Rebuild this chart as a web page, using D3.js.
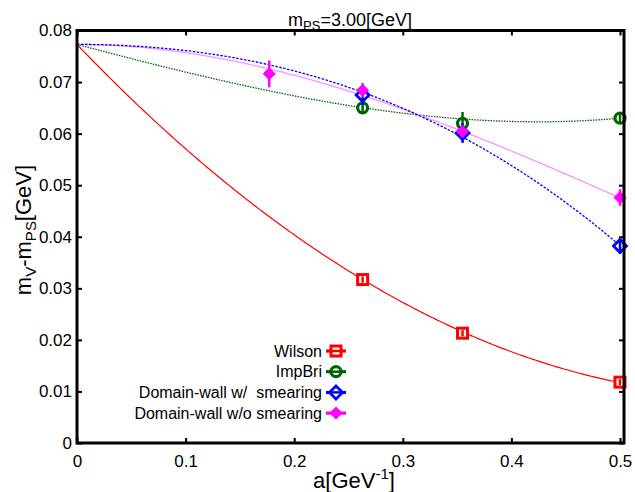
<!DOCTYPE html>
<html>
<head>
<meta charset="utf-8">
<script src="https://cdn.jsdelivr.net/npm/d3@7"></script>
<style>
  html, body { margin: 0; padding: 0; background: #fff; }
  text { font-family: "Liberation Sans", Arial, Helvetica, sans-serif; fill: #000; }
</style>
</head>
<body>
<svg id="chart" width="635" height="492"></svg>
<script>
// Lattice spacing a [GeV^-1] for each ensemble
const aCommon = [0.263, 0.355, 0.5];
const aNoSmear = [0.177, 0.263, 0.355, 0.5];

// Hyperfine splitting m_V - m_PS [GeV] with statistical errors
const wilsonVals = [0.0317, 0.0213, 0.0118];
const wilsonErr = [0.0006, 0.0006, 0.0006];
const impBriVals = [0.0650, 0.0620, 0.0630];
const impBriErr = [0.0011, 0.0022, 0.0008];
const dwSmearVals = [0.0675, 0.0601, 0.0382];
const dwSmearErr = [0.0019, 0.0019, 0.0015];
const dwNoSmearVals = [0.0716, 0.0684, 0.0604, 0.0476];
const dwNoSmearErr = [0.0026, 0.0014, 0.0012, 0.0016];

// Continuum extrapolation: common limit plus [a, a^2, a^3] coefficients
const continuumLimit = 0.0773;
const wilsonFit = [-0.2202, 0.178, 0];
const impBriFit = [-0.05576, 0.01287, 0.0829];
const dwSmearFit = [0, -0.1101, -0.0918];
const dwNoSmearFit = [0, -0.1696, 0.101];

const xTicks = [0, 0.1, 0.2, 0.3, 0.4, 0.5];
const yTicks = [0, 0.01, 0.02, 0.03, 0.04, 0.05, 0.06, 0.07, 0.08];
const legendLabels = ["Wilson", "ImpBri", "Domain-wall w/  smearing", "Domain-wall w/o smearing"];

const svg = d3.select("#chart");
const frameL = 77, frameR = 624, frameT = 30.5, frameB = 443;
const x = d3.scaleLinear().domain([0, 0.5]).range([frameL, 620]);
const y = d3.scaleLinear().domain([0, 0.08]).range([frameB, frameT]);

// Axes with inward ticks on all four sides
const fmt = d => d === 0 ? "0" : String(d);
svg.append("g").attr("transform", `translate(${frameL},0)`)
  .call(d3.axisLeft(y).tickValues(yTicks).tickFormat(fmt).tickSize(-5).tickPadding(5))
  .call(g => g.select(".domain").remove())
  .call(g => g.selectAll("text").attr("font-size", 17))
  .call(g => g.selectAll("line").attr("stroke-width", 2));
svg.append("g").attr("transform", `translate(${frameR},0)`)
  .call(d3.axisRight(y).tickValues(yTicks).tickFormat("").tickSize(-5))
  .call(g => g.select(".domain").remove())
  .call(g => g.selectAll("line").attr("stroke-width", 2));
svg.append("g").attr("transform", `translate(0,${frameB})`)
  .call(d3.axisBottom(x).tickValues(xTicks).tickFormat(fmt).tickSize(-5).tickPadding(12))
  .call(g => g.select(".domain").remove())
  .call(g => g.selectAll("text").attr("font-size", 17))
  .call(g => g.selectAll("line").attr("stroke-width", 2));
svg.append("g").attr("transform", `translate(0,${frameT})`)
  .call(d3.axisTop(x).tickValues(xTicks).tickFormat("").tickSize(-5))
  .call(g => g.select(".domain").remove())
  .call(g => g.selectAll("line").attr("stroke-width", 2));
svg.selectAll(".tick text").attr("fill", "#000");

// Fit curves
const sampleA = d3.range(0, 0.5 + 1e-9, 0.0025);
const fitLine = coeffs => d3.line()
  .x(a => x(a))
  .y(a => y(continuumLimit + coeffs[0] * a + coeffs[1] * a * a + coeffs[2] * a * a * a))(sampleA);

const plot = svg.append("g");
plot.append("path").attr("d", fitLine(impBriFit)).attr("fill", "none")
  .attr("stroke", "#006400").attr("stroke-width", 1.3).attr("stroke-dasharray", "1.5,1.2");
plot.append("path").attr("d", fitLine(dwNoSmearFit)).attr("fill", "none")
  .attr("stroke", "#ff90ff").attr("stroke-width", 1.3);
plot.append("path").attr("d", fitLine(dwSmearFit)).attr("fill", "none")
  .attr("stroke", "#0000ff").attr("stroke-width", 1.3).attr("stroke-dasharray", "2.5,1.5");
plot.append("path").attr("d", fitLine(wilsonFit)).attr("fill", "none")
  .attr("stroke", "#ff0000").attr("stroke-width", 1.2);

// Marker shapes
const diamond = r => `M0,${-r}L${r},0L0,${r}L${-r},0Z`;
function drawMarker(g, kind, color) {
  if (kind === "square") {
    g.append("rect").attr("x", -5).attr("y", -5).attr("width", 10).attr("height", 10)
      .attr("fill", "#fff").attr("stroke", color).attr("stroke-width", 3);
  } else if (kind === "circle") {
    g.append("circle").attr("r", 5).attr("fill", "#fff").attr("stroke", color).attr("stroke-width", 3.2);
  } else if (kind === "diamond") {
    g.append("path").attr("d", diamond(6.5)).attr("fill", "#fff").attr("stroke", color).attr("stroke-width", 2.8);
  } else {
    g.append("path").attr("d", diamond(6)).attr("fill", color).attr("stroke", color).attr("stroke-width", 1);
  }
}

const series = [
  { a: aCommon, v: wilsonVals, e: wilsonErr, kind: "square", color: "#ff0000" },
  { a: aCommon, v: impBriVals, e: impBriErr, kind: "circle", color: "#006400" },
  { a: aCommon, v: dwSmearVals, e: dwSmearErr, kind: "diamond", color: "#0000ff" },
  { a: aNoSmear, v: dwNoSmearVals, e: dwNoSmearErr, kind: "filled", color: "#ff00ff" }
];

series.forEach(s => {
  s.v.forEach((val, i) => {
    const g = plot.append("g").attr("transform", `translate(${x(s.a[i])},${y(val)})`);
    drawMarker(g, s.kind, s.color);
    g.append("line").attr("x1", 0).attr("x2", 0)
      .attr("y1", y(val + s.e[i]) - y(val)).attr("y2", y(val - s.e[i]) - y(val))
      .attr("stroke", s.color).attr("stroke-width", 2.5);
  });
});

// Frame
svg.append("rect").attr("x", frameL).attr("y", frameT).attr("width", frameR - frameL).attr("height", frameB - frameT)
  .attr("fill", "none").attr("stroke", "#000").attr("stroke-width", 3);

// Legend
const legend = svg.append("g");
series.forEach((s, i) => {
  const yy = 351 + i * 20.7;
  legend.append("text").attr("x", 322).attr("y", yy).attr("dy", "0.36em")
    .attr("text-anchor", "end").attr("font-size", 16).style("white-space", "pre")
    .text(legendLabels[i]);
  const g = legend.append("g").attr("transform", `translate(336,${yy})`);
  g.append("line").attr("x1", -10).attr("x2", 10).attr("stroke", s.color).attr("stroke-width", 3);
  drawMarker(g, s.kind, s.color);
  g.append("line").attr("x1", -10).attr("x2", 10).attr("stroke", s.color).attr("stroke-width", 2.5);
});

// Title
const title = svg.append("text").attr("x", 350).attr("y", 26).attr("text-anchor", "middle").attr("font-size", 18);
title.append("tspan").text("m");
title.append("tspan").attr("font-size", 13).attr("dy", 4).text("PS");
title.append("tspan").attr("dy", -4).text("=3.00[GeV]");

// Axis titles
const xl = svg.append("text").attr("x", 354).attr("y", 488).attr("text-anchor", "middle").attr("font-size", 22);
xl.append("tspan").text("a[GeV");
xl.append("tspan").attr("font-size", 15).attr("dy", -9).text("-1");
xl.append("tspan").attr("dy", 9).text("]");

const yl = svg.append("text").attr("transform", "translate(31,230) rotate(-90)")
  .attr("text-anchor", "middle").attr("font-size", 22);
yl.append("tspan").text("m");
yl.append("tspan").attr("font-size", 15).attr("dy", 5).text("V");
yl.append("tspan").attr("dy", -5).text("-m");
yl.append("tspan").attr("font-size", 15).attr("dy", 5).text("PS");
yl.append("tspan").attr("dy", -5).text("[GeV]");
</script>
</body>
</html>
